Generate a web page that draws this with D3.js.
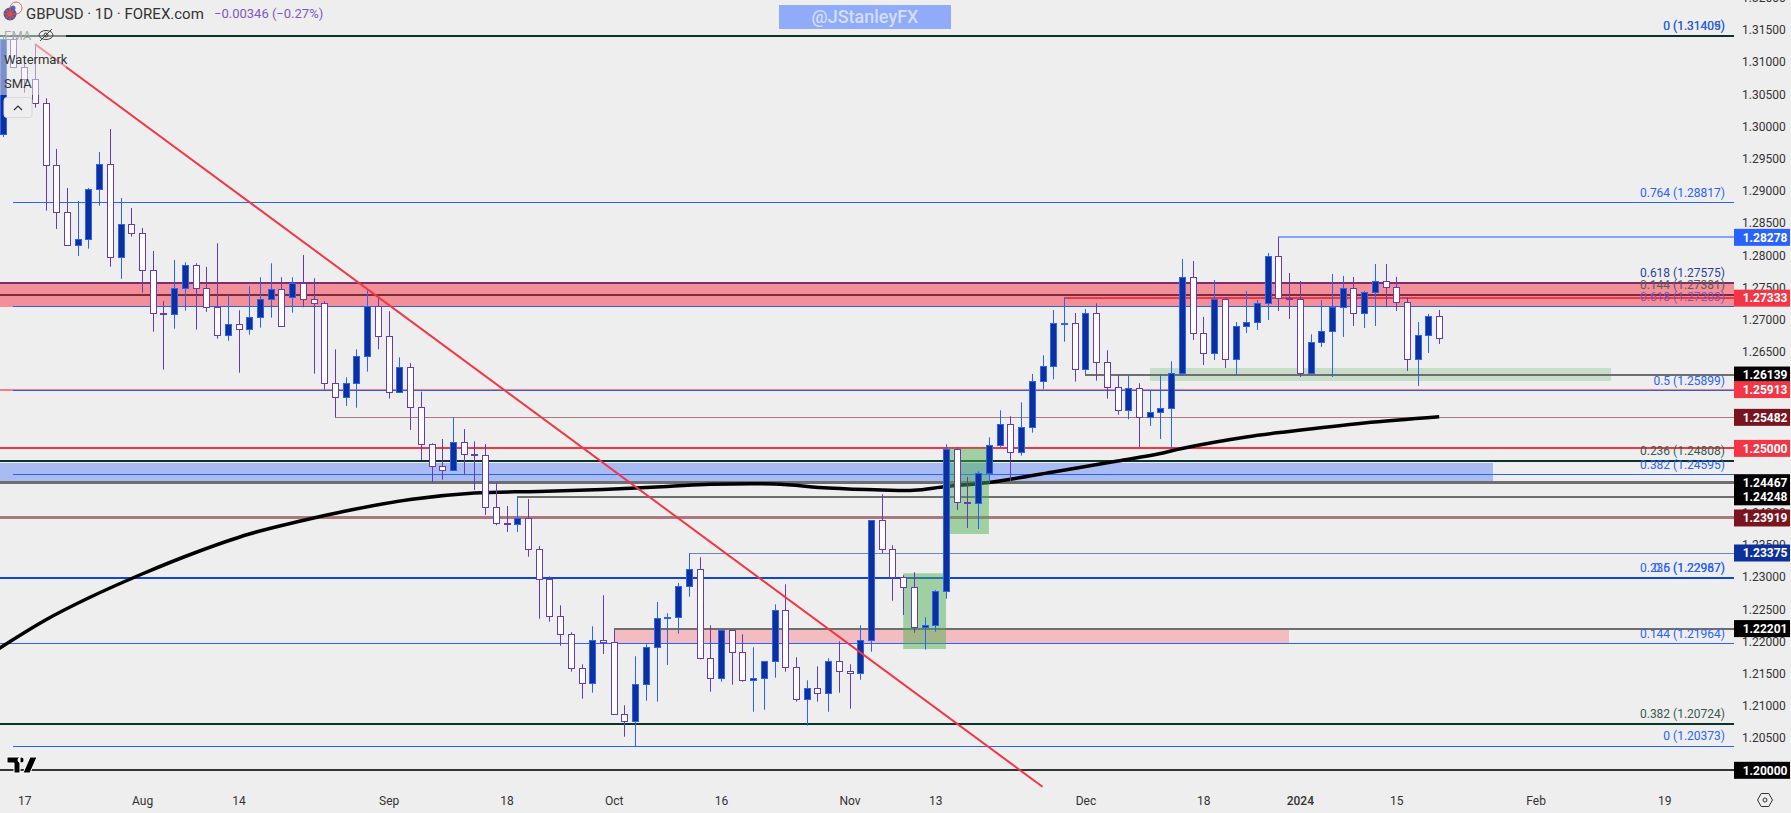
<!DOCTYPE html>
<html lang="en">
<head>
    <meta charset="UTF-8">
    <script src="https://d3js.org/d3.v7.min.js"></script>
    <style>
        html, body { margin: 0; padding: 0; background: #eeeeee; overflow: hidden; }
        text { font-family: Roboto, Arial, sans-serif; }
    </style>
</head>
<body>
    <svg id="chart" width="1791" height="813"></svg>

    <script>
        // Trading days on the chart (no bars on 25 Dec and 1 Jan)
        const dates = [
            "07-13","07-14","07-17","07-18","07-19","07-20","07-21","07-24","07-25","07-26",
            "07-27","07-28","07-31","08-01","08-02","08-03","08-04","08-07","08-08","08-09",
            "08-10","08-11","08-14","08-15","08-16","08-17","08-18","08-21","08-22","08-23",
            "08-24","08-25","08-28","08-29","08-30","08-31","09-01","09-04","09-05","09-06",
            "09-07","09-08","09-11","09-12","09-13","09-14","09-15","09-18","09-19","09-20",
            "09-21","09-22","09-25","09-26","09-27","09-28","09-29","10-02","10-03","10-04",
            "10-05","10-06","10-09","10-10","10-11","10-12","10-13","10-16","10-17","10-18",
            "10-19","10-20","10-23","10-24","10-25","10-26","10-27","10-30","10-31","11-01",
            "11-02","11-03","11-06","11-07","11-08","11-09","11-10","11-13","11-14","11-15",
            "11-16","11-17","11-20","11-21","11-22","11-23","11-24","11-27","11-28","11-29",
            "11-30","12-01","12-04","12-05","12-06","12-07","12-08","12-11","12-12","12-13",
            "12-14","12-15","12-18","12-19","12-20","12-21","12-22","12-26","12-27","12-28",
            "12-29","01-02","01-03","01-04","01-05","01-08","01-09","01-10","01-11","01-12",
            "01-15","01-16","01-17","01-18","01-19"
        ];
        // Empty space to the right of the last bar
        const futureDates = [
            "01-22","01-23","01-24","01-25","01-26","01-29","01-30","01-31","02-01","02-02",
            "02-05","02-06","02-07","02-08","02-09","02-12","02-13","02-14","02-15","02-16",
            "02-19","02-20","02-21","02-22","02-23","02-26","02-27","02-28"
        ];

        const opens = [
            1.29884,1.31355,1.30920,1.30733,1.30361,1.29397,1.28667,1.28155,1.28248,1.29025,
            1.29413,1.27968,1.28481,1.28341,1.27767,1.27099,1.27083,1.27487,1.27844,1.27487,
            1.27192,1.26757,1.26937,1.26850,1.27036,1.27316,1.27471,1.27347,1.27565,1.27316,
            1.27254,1.26011,1.25794,1.26011,1.26431,1.27207,1.26741,1.25871,1.26269,1.25639,
            1.25064,1.24722,1.24660,1.25095,1.24908,1.24893,1.24085,1.23837,1.23821,1.23914,
            1.23433,1.22967,1.22392,1.22113,1.21584,1.21351,1.22019,1.21988,1.20870,1.20761,
            1.21336,1.21911,1.22370,1.22376,1.22858,1.23122,1.21740,1.21429,1.22175,1.21833,
            1.21398,1.21429,1.21693,1.22485,1.21600,1.21103,1.21274,1.21196,1.21693,1.21538,
            1.21507,1.22019,1.23883,1.23433,1.22998,1.22843,1.22221,1.22262,1.22780,1.24986,
            1.24163,1.24147,1.24613,1.25048,1.25374,1.24940,1.25328,1.26042,1.26275,1.26932,
            1.26943,1.26229,1.27099,1.26337,1.25949,1.25592,1.25934,1.25483,1.25561,1.25623,
            1.26167,1.27658,1.26788,1.26477,1.27316,1.26384,1.26897,1.26959,1.27254,1.27984,
            1.27332,1.27316,1.26167,1.26648,1.26819,1.27192,1.27487,1.27099,1.27425,1.27596,
            1.27502,1.27269,1.26384,1.26757,1.27052
        ];
        const highs = [
            1.31405,1.31405,1.31064,1.31266,1.30438,1.29651,1.29045,1.28843,1.29045,1.29604,
            1.29961,1.28890,1.28734,1.28424,1.28066,1.27290,1.27927,1.27891,1.27875,1.27818,
            1.28186,1.27378,1.27145,1.27518,1.27658,1.27875,1.27658,1.27658,1.28004,1.27642,
            1.27285,1.26539,1.26104,1.26539,1.27456,1.27363,1.27130,1.26415,1.26327,1.25881,
            1.25079,1.25146,1.25483,1.25301,1.25110,1.25068,1.24458,1.24105,1.24241,1.24214,
            1.23484,1.23013,1.22563,1.22144,1.21646,1.22237,1.22718,1.22190,1.21010,1.21771,
            1.21957,1.22614,1.22439,1.22909,1.23371,1.23309,1.22252,1.22175,1.22175,1.22113,
            1.21911,1.21693,1.22578,1.22889,1.21755,1.21398,1.21615,1.21740,1.22004,1.21646,
            1.22252,1.23883,1.24287,1.23495,1.23029,1.23076,1.22377,1.22801,1.25064,1.25017,
            1.24556,1.24644,1.25172,1.25592,1.25499,1.25716,1.26156,1.26446,1.27150,1.27347,
            1.27103,1.27165,1.27254,1.26524,1.26136,1.26136,1.26011,1.25907,1.26156,1.26353,
            1.27942,1.27911,1.27041,1.27616,1.27347,1.26963,1.27445,1.27305,1.28035,1.28279,
            1.27725,1.27600,1.26772,1.27305,1.27709,1.27678,1.27662,1.27445,1.27864,1.27864,
            1.27662,1.27347,1.26963,1.27088,1.27150
        ];
        const lows = [
            1.29837,1.30909,1.30525,1.30292,1.28692,1.28408,1.28155,1.27989,1.28102,1.28770,
            1.27822,1.27636,1.28289,1.27419,1.26813,1.26223,1.26859,1.27139,1.26844,1.27119,
            1.26704,1.26673,1.26176,1.26766,1.26875,1.27030,1.26897,1.27108,1.27192,1.26160,
            1.25912,1.25483,1.25659,1.25632,1.26192,1.26539,1.25775,1.25871,1.25286,1.24820,
            1.24474,1.24514,1.24660,1.24598,1.24354,1.23966,1.23806,1.23702,1.23702,1.23318,
            1.22355,1.22308,1.21935,1.21532,1.21112,1.21205,1.21806,1.20870,1.20522,1.20373,
            1.21081,1.21066,1.21636,1.22122,1.22697,1.21724,1.21221,1.21376,1.21330,1.21376,
            1.20910,1.20941,1.21438,1.21532,1.21066,1.20693,1.21066,1.20910,1.21205,1.20957,
            1.21407,1.21842,1.23371,1.22634,1.22412,1.22137,1.21873,1.22153,1.22665,1.24043,
            1.23764,1.23748,1.24458,1.25011,1.24489,1.24887,1.25244,1.25918,1.26073,1.26657,
            1.26036,1.26151,1.26052,1.25772,1.25524,1.25452,1.25017,1.25348,1.25146,1.25002,
            1.26125,1.26684,1.26295,1.26373,1.26249,1.26140,1.26793,1.26839,1.26995,1.27134,
            1.27010,1.26109,1.26167,1.26575,1.26109,1.26731,1.26901,1.26870,1.26901,1.27192,
            1.27134,1.26202,1.25969,1.26482,1.26622
        ];
        const closes = [
            1.31359,1.30920,1.30733,1.30361,1.29397,1.28667,1.28155,1.28248,1.29025,1.29413,
            1.27968,1.28481,1.28341,1.27767,1.27099,1.27083,1.27487,1.27844,1.27487,1.27192,
            1.26757,1.26937,1.26850,1.27036,1.27316,1.27471,1.26897,1.27565,1.27316,1.27254,
            1.26011,1.25794,1.26011,1.26431,1.27207,1.26741,1.25871,1.26269,1.25639,1.25064,
            1.24722,1.24660,1.25095,1.24908,1.24898,1.24085,1.23837,1.23830,1.23914,1.23433,
            1.22967,1.22392,1.22113,1.21584,1.21351,1.22019,1.21988,1.20870,1.20761,1.21336,
            1.21911,1.22361,1.22376,1.22858,1.23122,1.21740,1.21429,1.22175,1.21833,1.21398,
            1.21429,1.21693,1.22485,1.21600,1.21103,1.21274,1.21196,1.21693,1.21538,1.21507,
            1.22019,1.23883,1.23433,1.22998,1.22843,1.22221,1.22262,1.22780,1.24986,1.24163,
            1.24147,1.24613,1.25048,1.25374,1.24940,1.25328,1.26042,1.26275,1.26943,1.26943,
            1.26229,1.27099,1.26337,1.25949,1.25592,1.25934,1.25483,1.25561,1.25623,1.26167,
            1.27658,1.26788,1.26477,1.27316,1.26384,1.26897,1.26959,1.27254,1.27984,1.27332,
            1.27316,1.26167,1.26648,1.26819,1.27192,1.27487,1.27099,1.27425,1.27596,1.27502,
            1.27269,1.26384,1.26757,1.27052,1.26710
        ];

        // 200 day SMA, read at a handful of dates
        const smaDates = ["07-12","07-19","07-25","08-01","08-08","08-15","08-22","08-28","09-05","09-13",
            "09-21","09-29","10-09","10-13","10-23","10-30","11-06","11-09","11-14","11-20",
            "11-28","12-06","12-12","12-14","12-22","12-29","01-10","01-19"];
        const smaValues = [1.21822,1.22335,1.22676,1.23049,1.23383,1.23670,1.23880,1.24028,1.24206,1.24307,
            1.24331,1.24362,1.24408,1.24442,1.24447,1.24385,1.24354,1.24349,1.24408,1.24470,
            1.24634,1.24804,1.24921,1.24999,1.25177,1.25263,1.25395,1.25492];

        // Falling trendline
        const trendDates = ["07-18", "11-27"];
        const trendPrices = [1.31280, 1.19745];

        // Horizontal levels
        const levelPrices = [1.31405,1.28817,1.28278,1.27575,1.27381,1.27333,1.27203,1.26139,1.25913,1.25899,
            1.25482,1.25000,1.24808,1.24595,1.24467,1.24248,1.23919,1.23375,1.22987,1.22201,1.21964,1.20724,1.20373,1.20000];
        const levelStarts = ["07-12","07-14","12-28","07-12","07-12","11-29","07-14","12-01","07-12","07-14",
            "08-25","07-12","07-12","07-14","07-12","09-19","07-12","10-11","07-12","10-02","07-12","07-12","07-14","07-12"];
        const levelColors = ["#0b3329","#2962ff","#82a4f8","#7b2f6f","#7b2d3c","#f23645","#2f5fe0","#6e6e6e","#f07f8a","#2f5fe0",
            "#a87a7e","#f23645","#0b3329","#2962ff","#6e6e6e","#6e6e6e","#ab797d","#6f83bb","#1046d8","#6e6e6e","#2962ff","#0b3329","#2962ff","#333333"];
        const levelWidths = [2,1,2,2,2,2,1,2,2,1,1,2,2,1,3,2,3,1,2,2,1,2,1,2];

        // Shaded zones: from, to, low, high
        const zoneStarts = ["07-12","07-12","10-02","12-11"];
        const zoneEnds = ["02-28","01-26","12-29","02-12"];
        const zoneLows = [1.27203,1.24467,1.21964,1.26047];
        const zoneHighs = [1.27575,1.24778,1.22201,1.26249];
        const zoneColors = ["#f38f98","#a8bbf3","#f2bcc0","#c8ddc8"];

        // Green boxes over the two breakout legs
        const boxStarts = ["11-08","11-14"];
        const boxEnds = ["11-14","11-20"];
        const boxLows = [1.21884,1.23670];
        const boxHighs = [1.23060,1.25002];

        // Fibonacci labels above their lines
        const fibTexts = ["0 (1.31405)","0 (1.31409)","0.764 (1.28817)","0.618 (1.27575)","0.144 (1.27381)","0.618 (1.27203)",
            "0.5 (1.25899)","0.236 (1.24808)","0.382 (1.24595)","0.236 (1.22987)","0.5 (1.22967)","0.144 (1.21964)","0.382 (1.20724)","0 (1.20373)"];
        const fibPrices = [1.31405,1.31405,1.28817,1.27575,1.27381,1.27203,1.25899,1.24808,1.24595,1.22987,1.22987,1.21964,1.20724,1.20373];
        const fibColors = ["#3a5a50","#2962ff","#2962ff","#2a3f9f","#5c5c5c","#7e57c2","#2962ff","#3a5a50","#2962ff","#2962ff","#2962ff","#2962ff","#3a5a50","#2962ff"];

        // Price tags on the right scale
        const tagPrices = [1.28278,1.27333,1.26139,1.25913,1.25482,1.25000,1.24467,1.24248,1.23919,1.23375,1.22201,1.20000];
        const tagColors = ["#2962ff","#f23645","#000000","#f23645","#7a1520","#f23645","#000000","#000000","#7a1520","#0d3099","#000000","#000000"];

        const priceTicks = [1.20,1.205,1.21,1.215,1.22,1.225,1.23,1.235,1.24,1.245,1.25,1.255,1.26,1.265,1.27,1.275,1.28,1.285,1.29,1.295,1.30,1.305,1.31,1.315,1.32];
        const timeTickDates = ["07-17","08-01","08-14","09-01","09-18","10-02","10-16","11-01","11-13","12-01","12-18","01-02","01-15","02-01","02-19"];
        const timeTickLabels = ["17","Aug","14","Sep","18","Oct","16","Nov","13","Dec","18","2024","15","Feb","19"];

        const width = 1791, height = 813;
        const plotRight = 1734;

        const svg = d3.select("#chart")
            .attr("width", width)
            .attr("height", height)
            .style("display", "block")
            .style("background", "#eeeeee");

        const x = d3.scalePoint()
            .domain(["07-12"].concat(dates, futureDates))
            .range([-8.02, 1739.34]);

        const y = d3.scaleLinear()
            .domain([1.2, 1.31405])
            .range([770.3, 36]);

        svg.append("defs").append("clipPath").attr("id", "plot")
            .append("rect").attr("width", plotRight).attr("height", height);

        const plot = svg.append("g").attr("clip-path", "url(#plot)");

        // Zones
        plot.selectAll(".zone")
            .data(zoneColors)
            .enter().append("rect")
            .attr("class", "zone")
            .attr("x", (d, i) => x(zoneStarts[i]))
            .attr("y", (d, i) => y(zoneHighs[i]))
            .attr("width", (d, i) => x(zoneEnds[i]) - x(zoneStarts[i]))
            .attr("height", (d, i) => y(zoneLows[i]) - y(zoneHighs[i]))
            .attr("fill", d => d)
            .attr("shape-rendering", "crispEdges");

        // Levels
        plot.selectAll(".level")
            .data(levelPrices)
            .enter().append("line")
            .attr("class", "level")
            .attr("x1", (d, i) => x(levelStarts[i]))
            .attr("x2", plotRight)
            .attr("y1", d => y(d))
            .attr("y2", d => y(d))
            .attr("stroke", (d, i) => levelColors[i])
            .attr("stroke-width", (d, i) => levelWidths[i])
            .attr("shape-rendering", "crispEdges");

        // SMA
        const smaLine = d3.line()
            .x(d => x(d.date))
            .y(d => y(d.value))
            .curve(d3.curveCatmullRom);

        plot.append("path")
            .datum(smaDates.map((date, i) => ({ date, value: smaValues[i] })))
            .attr("d", smaLine)
            .attr("fill", "none")
            .attr("stroke", "#000")
            .attr("stroke-width", 3.5);

        // Green boxes
        plot.selectAll(".box")
            .data(boxStarts)
            .enter().append("rect")
            .attr("class", "box")
            .attr("x", d => x(d))
            .attr("y", (d, i) => y(boxHighs[i]))
            .attr("width", (d, i) => x(boxEnds[i]) - x(d))
            .attr("height", (d, i) => y(boxLows[i]) - y(boxHighs[i]))
            .attr("fill", "#4caf50")
            .attr("fill-opacity", 0.48);

        // Candles
        const candles = dates.map((date, i) => ({
            date, open: opens[i], high: highs[i], low: lows[i], close: closes[i], up: closes[i] >= opens[i]
        }));
        const bodyWidth = 6;

        const candle = plot.selectAll(".candle")
            .data(candles)
            .enter().append("g")
            .attr("class", "candle");

        candle.append("line")
            .attr("x1", d => Math.round(x(d.date)) + 0.5)
            .attr("x2", d => Math.round(x(d.date)) + 0.5)
            .attr("y1", d => y(d.high))
            .attr("y2", d => y(d.low))
            .attr("stroke", d => d.up ? "#2962ff" : "#673ab7")
            .attr("stroke-width", 1);

        candle.append("rect")
            .attr("x", d => Math.round(x(d.date)) + 0.5 - bodyWidth / 2)
            .attr("y", d => Math.round(y(Math.max(d.open, d.close))) + 0.5)
            .attr("width", bodyWidth)
            .attr("height", d => Math.max(1, Math.round(y(Math.min(d.open, d.close))) - Math.round(y(Math.max(d.open, d.close)))))
            .attr("fill", d => d.up ? "#0d3099" : "#ffffff")
            .attr("stroke", d => d.up ? "#2962ff" : "#673ab7")
            .attr("stroke-width", 1);

        // Trendline
        plot.append("line")
            .attr("x1", x(trendDates[0]))
            .attr("y1", y(trendPrices[0]))
            .attr("x2", x(trendDates[1]))
            .attr("y2", y(trendPrices[1]))
            .attr("stroke", "#f23645")
            .attr("stroke-width", 2);

        // Fib labels
        svg.selectAll(".fib")
            .data(fibTexts)
            .enter().append("text")
            .attr("class", "fib")
            .attr("x", 1725)
            .attr("y", (d, i) => y(fibPrices[i]) - 10)
            .attr("dy", "0.35em")
            .attr("text-anchor", "end")
            .style("font-size", "12px")
            .attr("fill", (d, i) => fibColors[i])
            .text(d => d);

        // Axes
        const yAxis = svg.append("g")
            .attr("transform", "translate(1742,0)")
            .call(d3.axisRight(y).tickValues(priceTicks).tickSize(0).tickPadding(0).tickFormat(d3.format(".5f")));
        yAxis.select(".domain").remove();
        yAxis.selectAll("text").style("font-size", "12px").attr("fill", "#333");

        const xAxis = svg.append("g")
            .attr("transform", "translate(0,793)")
            .call(d3.axisBottom(x).tickValues(timeTickDates).tickSize(0).tickPadding(3)
                .tickFormat((d, i) => timeTickLabels[i]));
        xAxis.select(".domain").remove();
        xAxis.selectAll("text")
            .style("font-size", "12px")
            .style("font-weight", d => d === "01-02" ? "500" : "400")
            .attr("fill", "#333");

        // Price tags
        const tag = svg.selectAll(".tag")
            .data(tagPrices)
            .enter().append("g")
            .attr("class", "tag")
            .attr("transform", d => `translate(1734,${y(d)})`);

        tag.append("rect")
            .attr("y", -8.5)
            .attr("width", 56)
            .attr("height", 17)
            .attr("fill", (d, i) => tagColors[i]);

        tag.append("text")
            .attr("x", 8.7)
            .attr("dy", "0.35em")
            .attr("fill", "#fff")
            .style("font-size", "12px")
            .style("font-weight", "700")
            .text(d => d3.format(".5f")(d));

        // Watermark
        svg.append("rect")
            .attr("x", 779).attr("y", 5).attr("width", 172).attr("height", 24)
            .attr("fill", "#8fabf9");
        svg.append("text")
            .attr("x", 865).attr("y", 17)
            .attr("dy", "0.35em")
            .attr("text-anchor", "middle")
            .attr("fill", "#d3dfff")
            .style("font-size", "18px")
            .style("font-weight", "500")
            .text("@JStanleyFX");

        // Legend sits on a washed out strip at the top left
        svg.append("rect")
            .attr("x", 0).attr("y", 28).attr("width", 66).attr("height", 67)
            .attr("fill", "#eeeeee").attr("fill-opacity", 0.5);

        svg.append("text").attr("x", 26).attr("y", 13.5).attr("dy", "0.35em")
            .style("font-size", "15px").attr("fill", "#333").text("GBPUSD · 1D · FOREX.com");
        svg.append("text").attr("x", 214).attr("y", 13.5).attr("dy", "0.35em")
            .style("font-size", "13px").attr("fill", "#7e57c2").text("−0.00346 (−0.27%)");
        svg.append("text").attr("x", 4).attr("y", 35).attr("dy", "0.35em")
            .style("font-size", "13px").attr("fill", "#aaa").text("EMA");
        svg.append("text").attr("x", 4).attr("y", 59).attr("dy", "0.35em")
            .style("font-size", "13px").attr("fill", "#333").text("Watermark");
        svg.append("text").attr("x", 4).attr("y", 83).attr("dy", "0.35em")
            .style("font-size", "13px").attr("fill", "#333").text("SMA");

        // Hidden-eye icon
        const eye = svg.append("g").attr("transform", "translate(46,35)")
            .attr("fill", "none").attr("stroke", "#444").attr("stroke-width", 1);
        eye.append("ellipse").attr("rx", 7).attr("ry", 4.5);
        eye.append("circle").attr("r", 2);
        eye.append("line").attr("x1", -6).attr("y1", 6).attr("x2", 6).attr("y2", -6);

        // Collapse button
        svg.append("rect").attr("x", 4).attr("y", 97.5).attr("width", 28).attr("height", 20).attr("rx", 3)
            .attr("fill", "#eeeeee").attr("stroke", "#d8d8de");
        svg.append("path").attr("d", "M14 110l4-4 4 4").attr("fill", "none").attr("stroke", "#333").attr("stroke-width", 1.2);

        // Flag icon
        svg.append("circle").attr("cx", 16).attr("cy", 8).attr("r", 6).attr("fill", "#f2f2f2").attr("stroke", "#e26a6a");
        svg.append("circle").attr("cx", 13).attr("cy", 8).attr("r", 2.5).attr("fill", "#3f6fc8");
        svg.append("circle").attr("cx", 10).attr("cy", 14).attr("r", 6.5).attr("fill", "#3f5fa8");
        svg.append("path").attr("d", "M4 14h12M10 8v12M6 10l8 8M14 10l-8 8").attr("stroke", "#e04a4a").attr("stroke-width", 1.6);

        // TradingView logo
        svg.append("path")
            .attr("d", "M7 757h13v16h-6v-10h-7zM21 757a3 3 0 1 0 .1 0zM30 757h7l-7 16h-7z")
            .attr("fill", "#000").attr("stroke", "#fff").attr("stroke-width", 1);

        // Settings icon
        svg.append("path")
            .attr("d", "M1757.5 800l3.7-6.5h7.6l3.7 6.5-3.7 6.5h-7.6z")
            .attr("fill", "none").attr("stroke", "#333").attr("stroke-width", 1);
        svg.append("circle").attr("cx", 1765).attr("cy", 800).attr("r", 2).attr("fill", "none").attr("stroke", "#333");
    </script>
</body>
</html>
